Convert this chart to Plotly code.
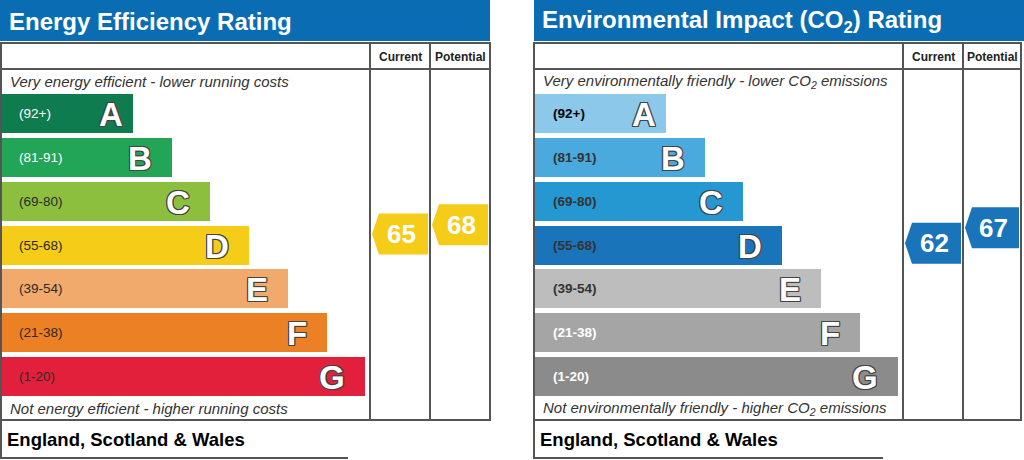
import plotly.graph_objects as go

# ---------------- data ----------------
bands = ["A", "B", "C", "D", "E", "F", "G"]
band_ranges = ["(92+)", "(81-91)", "(69-80)", "(55-68)", "(39-54)", "(21-38)", "(1-20)"]
band_lows = [92, 81, 69, 55, 39, 21, 1]
ee_colors = ["#0f7c4f", "#22a556", "#8dbf3e", "#f5cc18", "#f2a96c", "#ec8025", "#e2203c"]
ei_colors = ["#8cc8e9", "#4aaade", "#2598d2", "#1a74b9", "#bdbdbd", "#a5a5a5", "#8b8b8b"]
ee_label_colors = ["white", "white", "#2a2a2a", "#2a2a2a", "#2a2a2a", "#2a2a2a", "#2a2a2a"]
ei_label_colors = ["black", "#333333", "#333333", "#333333", "#333333", "white", "white"]
ee_current, ee_potential = 65, 68
ei_current, ei_potential = 62, 67
ee_title = "Energy Efficiency Rating"
ei_title = "Environmental Impact (CO<sub>2</sub>) Rating"
ee_top = "Very energy efficient - lower running costs"
ee_bottom = "Not energy efficient - higher running costs"
ei_top = "Very environmentally friendly - lower CO<sub>2</sub> emissions"
ei_bottom = "Not environmentally friendly - higher CO<sub>2</sub> emissions"
region = "England, Scotland & Wales"
col_heads = ["Current", "Potential"]

# ---------------- geometry ----------------
W, H = 1024, 460
FONT = "Liberation Sans, Arial, sans-serif"
LINE = "#555555"
HEAD_BLUE = "#0a6cb3"
band_c0, band_step, band_h = 113.5, 43.85, 39
# score axis: pixel y = 234 - 3.1*(score-65)
s_top = 65 + 234 / 3.1
s_bot = 65 - (H - 234) / 3.1
arrow_half = 20.5 / 3.1

panels = [
    dict(bar_x0=1, w0=132, colors=ee_colors, lab_col=ee_label_colors, bold_lab=False,
         title=ee_title, top=ee_top, bottom=ee_bottom, cur=ee_current, pot=ee_potential,
         box=(1, 490), cols=(370, 430), hdr=(0, 490), bottom_box=348),
    dict(bar_x0=535, w0=131, colors=ei_colors, lab_col=ei_label_colors, bold_lab=True,
         title=ei_title, top=ei_top, bottom=ei_bottom, cur=ei_current, pot=ei_potential,
         box=(534, 1021), cols=(903, 963), hdr=(534, 1024), bottom_box=883),
]

fig = go.Figure()
shapes, annots = [], []
outline = ("1px 1px 0 #444, -1px -1px 0 #444, 1px -1px 0 #444, -1px 1px 0 #444, "
           "0 1px 0 #444, 1px 0 0 #444, 0 -1px 0 #444, -1px 0 0 #444")


def band_for(score):
    for i, lo in enumerate(band_lows):
        if score >= lo:
            return i
    return len(band_lows) - 1


for p in panels:
    widths = [p["w0"] + 38.7 * i for i in range(len(bands))]
    centers = [band_c0 + band_step * i for i in range(len(bands))]
    fig.add_trace(go.Bar(
        orientation="h", y=centers, x=widths, base=p["bar_x0"], width=band_h,
        marker=dict(color=p["colors"], line=dict(width=0)),
        xaxis="x", yaxis="y", hoverinfo="skip", showlegend=False))
    for i, b in enumerate(bands):
        end = p["bar_x0"] + widths[i]
        annots.append(dict(x=p["bar_x0"] + 16, y=centers[i], xref="x", yref="y", text=band_ranges[i],
                           showarrow=False, xanchor="left", yanchor="middle",
                           font=dict(family=FONT, size=13.5, color=p["lab_col"][i],
                                     weight="bold" if p["bold_lab"] else "normal")))
        off = 8 if i == 0 else 18
        annots.append(dict(x=end - off, y=centers[i] + 1, xref="x", yref="y", text=b,
                           showarrow=False, xanchor="right", yanchor="middle",
                           font=dict(family=FONT, size=33, color="white", weight="bold",
                                     shadow=outline)))
    hx0, hx1 = p["hdr"]
    bx0, bx1 = p["box"]
    c1, c2 = p["cols"]
    # header
    shapes.append(dict(type="rect", x0=hx0, x1=hx1, y0=0, y1=41, xref="x", yref="y",
                       fillcolor=HEAD_BLUE, line=dict(width=0), layer="below"))
    annots.append(dict(x=bx0 + 6, y=21, xref="x", yref="y", text=p["title"], showarrow=False,
                       xanchor="left", yanchor="middle",
                       font=dict(family=FONT, size=24, color="white", weight="bold")))
    # main box
    shapes.append(dict(type="rect", x0=bx0, x1=bx1, y0=43, y1=420, xref="x", yref="y",
                       line=dict(color=LINE, width=2), layer="above"))
    shapes.append(dict(type="line", x0=bx0, x1=bx1, y0=69, y1=69, xref="x", yref="y",
                       line=dict(color=LINE, width=2)))
    for cx in (c1, c2):
        shapes.append(dict(type="line", x0=cx, x1=cx, y0=43, y1=420, xref="x", yref="y",
                           line=dict(color=LINE, width=2)))
    for k, (ca, cb) in enumerate(((c1, c2), (c2, bx1))):
        annots.append(dict(x=(ca + cb) / 2, y=57, xref="x", yref="y", text=col_heads[k],
                           showarrow=False, xanchor="center", yanchor="middle",
                           font=dict(family=FONT, size=12, color="#222222", weight="bold")))
    # captions
    annots.append(dict(x=bx0 + 7, y=81, xref="x", yref="y", text="<i>" + p["top"] + "</i>",
                       showarrow=False, xanchor="left", yanchor="middle",
                       font=dict(family=FONT, size=15, color="#333333")))
    annots.append(dict(x=bx0 + 7, y=408, xref="x", yref="y", text="<i>" + p["bottom"] + "</i>",
                       showarrow=False, xanchor="left", yanchor="middle",
                       font=dict(family=FONT, size=15, color="#333333")))
    # bottom region box
    shapes.append(dict(type="line", x0=bx0, x1=bx0, y0=420, y1=458, xref="x", yref="y",
                       line=dict(color=LINE, width=2)))
    shapes.append(dict(type="line", x0=bx0 - 1, x1=p["bottom_box"], y0=458, y1=458, xref="x", yref="y",
                       line=dict(color=LINE, width=2)))
    annots.append(dict(x=bx0 + 4, y=439, xref="x", yref="y", text=region, showarrow=False,
                       xanchor="left", yanchor="middle",
                       font=dict(family=FONT, size=18.5, color="black", weight="bold")))
    # arrows
    for score, (ca, cb) in ((p["cur"], (c1, c2)), (p["pot"], (c2, bx1))):
        ax0, ax1 = ca + 2, cb - 2
        col = p["colors"][band_for(score)]
        path = (f"M {ax0},{score} L {ax0 + 7},{score + arrow_half} L {ax1},{score + arrow_half} "
                f"L {ax1},{score - arrow_half} L {ax0 + 7},{score - arrow_half} Z")
        shapes.append(dict(type="path", path=path, xref="x", yref="y2",
                           fillcolor=col, line=dict(width=0)))
        annots.append(dict(x=(ax0 + ax1) / 2 + 1, y=score, xref="x", yref="y2", text=str(score),
                           showarrow=False, xanchor="center", yanchor="middle",
                           font=dict(family=FONT, size=26, color="white", weight="bold")))

fig.update_layout(
    width=W, height=H, margin=dict(l=0, r=0, t=0, b=0),
    paper_bgcolor="white", plot_bgcolor="white",
    xaxis=dict(range=[0, W], visible=False, fixedrange=True),
    yaxis=dict(range=[H, 0], visible=False, fixedrange=True),
    yaxis2=dict(range=[s_bot, s_top], visible=False, overlaying="y", fixedrange=True),
    shapes=shapes, annotations=annots, barmode="overlay", bargap=0, showlegend=False,
)
fig.write_html("out.html", config={"displayModeBar": False},
               post_script="document.body.style.margin='0';document.body.style.overflow='hidden';")
